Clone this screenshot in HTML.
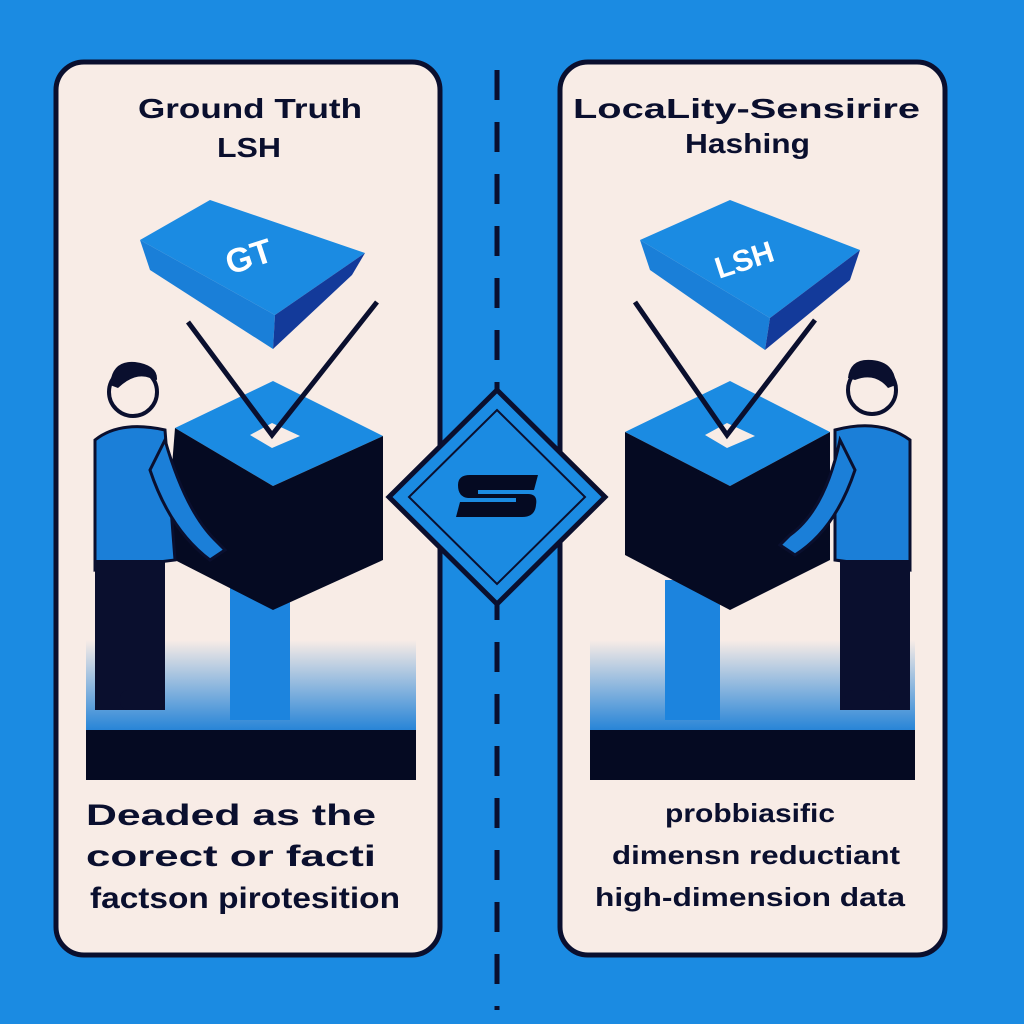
<!DOCTYPE html>
<html><head><meta charset="utf-8"><style>html,body{margin:0;padding:0;background:#1b8be2}svg{display:block}</style></head>
<body>
<svg width="1024" height="1024" viewBox="0 0 1024 1024" xmlns="http://www.w3.org/2000/svg">
<defs>
<linearGradient id="fl" x1="0" y1="0" x2="0" y2="1"><stop offset="0" stop-color="#f8ece6"/><stop offset="1" stop-color="#1c7fd6"/></linearGradient>
</defs>
<rect width="1024" height="1024" fill="#1b8be2"/>
<line x1="497" y1="70" x2="497" y2="1010" stroke="#0a0f2e" stroke-width="5" stroke-dasharray="30 22"/>
<rect x="56" y="62" width="384" height="893" rx="28" fill="#f8ece6" stroke="#0a0f2e" stroke-width="5"/>
<rect x="560" y="62" width="385" height="893" rx="28" fill="#f8ece6" stroke="#0a0f2e" stroke-width="5"/>
<g font-family="Liberation Sans, sans-serif" font-weight="bold" fill="#0a0f2e" lengthAdjust="spacingAndGlyphs">
<text x="138" y="118" font-size="28" textLength="224" lengthAdjust="spacingAndGlyphs">Ground Truth</text>
<text x="217" y="157" font-size="28" textLength="64" lengthAdjust="spacingAndGlyphs">LSH</text>
<text x="573" y="118" font-size="28" textLength="347" lengthAdjust="spacingAndGlyphs">LocaLity-Sensirire</text>
<text x="685" y="153" font-size="28" textLength="125" lengthAdjust="spacingAndGlyphs">Hashing</text>
<text x="86" y="825" font-size="30" textLength="290" lengthAdjust="spacingAndGlyphs">Deaded  as   the</text>
<text x="86" y="866" font-size="30" textLength="290" lengthAdjust="spacingAndGlyphs">corect  or  facti</text>
<text x="90" y="908" font-size="30" textLength="310" lengthAdjust="spacingAndGlyphs">factson  pirotesition</text>
<text x="665" y="822" font-size="26" textLength="170" lengthAdjust="spacingAndGlyphs">probbiasific</text>
<text x="612" y="864" font-size="26" textLength="288" lengthAdjust="spacingAndGlyphs">dimensn reductiant</text>
<text x="595" y="906" font-size="26" textLength="310" lengthAdjust="spacingAndGlyphs">high-dimension data</text>
</g>
<!-- LEFT scene -->
<rect x="86" y="640" width="330" height="95" fill="url(#fl)"/>
<rect x="86" y="730" width="330" height="50" fill="#050a22"/>
<rect x="230" y="580" width="60" height="140" fill="#1c84de"/>
<polygon points="140,240 210,200 365,253 275,315" fill="#1b8be2"/>
<polygon points="140,240 275,315 273,349 150,270" fill="#1a7fd8"/>
<polygon points="275,315 365,253 352,275 273,349" fill="#133a9a"/>
<text x="250" y="268" font-family="Liberation Sans, sans-serif" font-weight="bold" font-size="34" fill="#fff" text-anchor="middle" transform="rotate(-18 250 260)">GT</text>
<polygon points="273,381 383,436 273,486 175,428" fill="#1b8be2"/>
<polygon points="175,428 273,486 273,610 165,555" fill="#050a22"/>
<polygon points="273,486 383,436 383,560 273,610" fill="#050a22"/>
<polygon points="250,435 272,423 300,436 272,448" fill="#f8ece6"/>
<polyline points="188,322 272,435 377,302" fill="none" stroke="#0a0f2e" stroke-width="5"/>
<circle cx="133" cy="392" r="24" fill="#f8ece6" stroke="#0a0f2e" stroke-width="4"/>
<path d="M110 385 Q112 360 135 362 Q158 365 157 380 L150 378 Q135 372 118 388Z" fill="#0a0f2e"/>
<path d="M95 440 Q120 420 165 430 L175 560 L95 570Z" fill="#1b7fd8" stroke="#0a0f2e" stroke-width="3"/>
<path d="M165 440 Q185 510 215 540 L225 550 L210 560 Q170 530 150 470Z" fill="#1b7fd8" stroke="#0a0f2e" stroke-width="3"/>
<rect x="95" y="560" width="70" height="150" fill="#0a0f2e"/>
<rect x="120" y="690" width="45" height="20" rx="8" fill="#0a0f2e"/>
<!-- RIGHT scene -->
<rect x="590" y="640" width="325" height="95" fill="url(#fl)"/>
<rect x="590" y="730" width="325" height="50" fill="#050a22"/>
<rect x="665" y="580" width="55" height="140" fill="#1c84de"/>
<polygon points="640,240 730,200 860,250 770,318" fill="#1b8be2"/>
<polygon points="640,240 770,318 765,350 650,270" fill="#1a7fd8"/>
<polygon points="770,318 860,250 850,280 765,350" fill="#133a9a"/>
<text x="745" y="270" font-family="Liberation Sans, sans-serif" font-weight="bold" font-size="30" fill="#fff" text-anchor="middle" transform="rotate(-18 745 262)">LSH</text>
<polygon points="730,381 830,432 730,486 625,432" fill="#1b8be2"/>
<polygon points="625,432 730,486 730,610 625,555" fill="#050a22"/>
<polygon points="730,486 830,432 830,560 730,610" fill="#050a22"/>
<polygon points="705,435 727,423 755,436 727,448" fill="#f8ece6"/>
<polyline points="635,302 727,435 815,320" fill="none" stroke="#0a0f2e" stroke-width="5"/>
<circle cx="872" cy="390" r="24" fill="#f8ece6" stroke="#0a0f2e" stroke-width="4"/>
<path d="M848 378 Q850 358 872 360 Q895 362 896 385 L888 388 Q875 372 855 380Z" fill="#0a0f2e"/>
<path d="M835 430 Q880 418 910 440 L910 570 L835 560Z" fill="#1b7fd8" stroke="#0a0f2e" stroke-width="3"/>
<path d="M840 440 Q825 510 790 535 L780 545 L795 555 Q835 530 855 470Z" fill="#1b7fd8" stroke="#0a0f2e" stroke-width="3"/>
<rect x="840" y="560" width="70" height="150" fill="#0a0f2e"/>
<rect x="845" y="690" width="45" height="20" rx="8" fill="#0a0f2e"/>
<!-- diamond -->
<polygon points="497,390 605,497 497,604 389,497" fill="#1b8be2" stroke="#0a0f2e" stroke-width="5"/>
<polygon points="497,410 585,497 497,584 409,497" fill="none" stroke="#0a0f2e" stroke-width="2"/>
<path d="M458 485 Q458 475 470 475 L538 475 L534 490 L478 490 L478 494 L528 494 Q538 494 536 505 Q535 517 522 517 L456 517 L460 502 L516 502 L516 498 L468 498 Q458 497 458 485Z" fill="#050a22"/>
</svg>
</body></html>
